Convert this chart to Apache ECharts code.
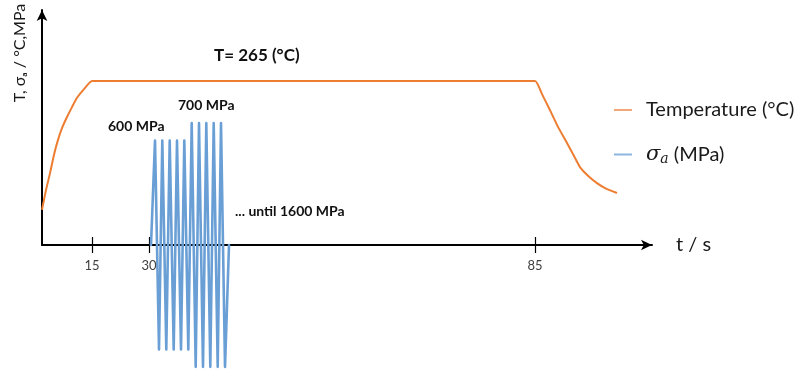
<!DOCTYPE html>
<html>
<head>
<meta charset="utf-8">
<script src="https://cdn.jsdelivr.net/npm/echarts@6/dist/echarts.min.js"></script>
<style>
  html, body { margin: 0; padding: 0; background: #fff; }
  #chart { width: 804px; height: 370px; }
</style>
</head>
<body>
<div id="chart"></div>
<script>
// schematic time axis (not to scale): positions of the labelled ticks
const xTickPos = [10, 21.4, 98.6];
const xTickLabels = ["15", "30", "85"];

// temperature profile [position, °C]
const tempX = [0, 0.8, 1.6, 2.4, 3.2, 4.0, 5.0, 6.0, 7.0, 8.4, 10,
               98.6, 100, 101.6, 103.2, 105, 106.4, 107.6, 109.2, 111, 112.8, 115];
const tempY = [57, 89, 116, 146, 170, 189, 207, 223, 238, 252, 265,
               265, 244, 218, 191, 165, 144, 126, 112, 100, 91, 84];

// stress amplitude steps [position, MPa]
const sigmaX = [21.8, 22.6, 23.4, 24.06, 24.86, 25.54, 26.34, 27.0, 27.8, 28.46, 29.26,
                29.94, 30.74, 31.4, 32.2, 32.86, 33.66, 34.34, 35.14, 35.8, 36.6, 37.4];
const sigmaY = [0, 600, -600, 600, -600, 600, -600, 600, -600, 600, -600,
                700, -700, 700, -700, 700, -700, 700, -700, 700, -700, 0];

const FONT = "Lato, 'Open Sans', sans-serif";
const ORANGE = "#ED7D31";
const BLUE = "#6A9FD6";

const chart = echarts.init(document.getElementById("chart"));

const option = {
  animation: false,
  grid: { left: 42, right: 152, top: 10, bottom: 125 },
  legend: {
    orient: "vertical",
    left: 609,
    top: 95,
    itemWidth: 18,
    itemHeight: 2,
    itemGap: 24,
    data: [
      { name: "Temperature (°C)", icon: "rect", itemStyle: { color: "#F0A878" } },
      { name: "sigma", icon: "rect", itemStyle: { color: "#8DB6DE" } },
    ],
    formatter: (name) => name === "sigma" ? "{it|σ}{sub|a} (MPa)" : name,
    textStyle: {
      fontFamily: FONT,
      fontSize: 20,
      color: "#1a1a1a",
      padding: [0, 0, 0, 9],
      rich: {
        it: { fontFamily: "'DejaVu Serif', serif", fontStyle: "italic", fontSize: 21, color: "#1a1a1a" },
        sub: { fontFamily: "'DejaVu Serif', serif", fontStyle: "italic", fontSize: 14, color: "#1a1a1a", padding: [9, 0, 0, 0] },
      },
    },
  },
  xAxis: [
    {
      type: "value",
      min: 0,
      max: 122,
      position: "bottom",
      name: "t / s",
      nameLocation: "end",
      nameGap: 24,
      nameTextStyle: { fontFamily: FONT, fontSize: 20, color: "#1a1a1a", verticalAlign: "middle" },
      splitLine: { show: false },
      axisLine: {
        show: true,
        symbol: ["none", "arrow"],
        symbolSize: [8, 11],
        lineStyle: { color: "#000", width: 2 },
      },
      axisTick: {
        show: true,
        length: 8,
        customValues: xTickPos,
        lineStyle: { color: "#000", width: 1.2 },
      },
      axisLabel: {
        customValues: xTickPos,
        margin: 14,
        fontFamily: FONT,
        fontSize: 13,
        color: "#404040",
        formatter: (v) => {
          const i = xTickPos.indexOf(v);
          return i >= 0 ? xTickLabels[i] : "";
        },
      },
    },
    {
      // upper half of the crossing tick marks
      type: "value",
      min: 0,
      max: 122,
      position: "bottom",
      splitLine: { show: false },
      axisLine: { show: false },
      axisTick: {
        show: true,
        inside: true,
        length: 8,
        customValues: xTickPos,
        lineStyle: { color: "#000", width: 1.2 },
      },
      axisLabel: { show: false },
    },
  ],
  yAxis: [
    {
      type: "value",
      min: 0,
      max: 380,
      splitLine: { show: false },
      axisTick: { show: false },
      axisLabel: { show: false },
      axisLine: {
        show: true,
        symbol: ["none", "arrow"],
        symbolSize: [8, 11],
        lineStyle: { color: "#000", width: 2 },
      },
    },
    {
      type: "value",
      min: 0,
      max: 1350,
      show: false,
    },
  ],
  graphic: [
    {
      type: "text",
      x: 20,
      y: 53,
      rotation: Math.PI / 2,
      style: {
        text: "T, σₐ / °C,MPa",
        font: "16px " + FONT,
        fill: "#1a1a1a",
        align: "center",
        verticalAlign: "middle",
      },
    },
    {
      type: "text",
      x: 214,
      y: 56,
      style: { text: "T= 265 (°C)", font: "bold 17px " + FONT, fill: "#111", verticalAlign: "middle" },
    },
    {
      type: "text",
      x: 108,
      y: 126,
      style: { text: "600 MPa", font: "bold 14px " + FONT, fill: "#111", verticalAlign: "middle" },
    },
    {
      type: "text",
      x: 178,
      y: 105,
      style: { text: "700 MPa", font: "bold 14px " + FONT, fill: "#111", verticalAlign: "middle" },
    },
    {
      type: "text",
      x: 235,
      y: 211,
      style: { text: "... until 1600 MPa", font: "bold 14px " + FONT, fill: "#111", verticalAlign: "middle" },
    },
  ],
  series: [
    {
      name: "sigma",
      type: "line",
      yAxisIndex: 1,
      clip: false,
      symbol: "none",
      color: BLUE,
      lineStyle: { color: BLUE, width: 2.6, join: "round", cap: "round" },
      data: sigmaX.map((x, i) => [x, sigmaY[i]]),
      z: 3,
    },
    {
      name: "Temperature (°C)",
      type: "line",
      symbol: "none",
      smooth: 0.15,
      color: ORANGE,
      lineStyle: { color: ORANGE, width: 2 },
      data: tempX.map((x, i) => [x, tempY[i]]),
      z: 2,
    },
  ],
};

chart.setOption(option);
</script>
</body>
</html>
